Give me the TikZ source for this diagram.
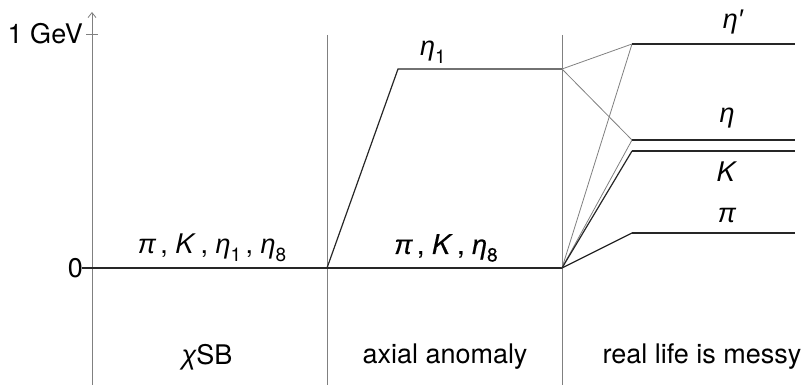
\documentclass[tikz,border=0pt]{standalone}
\usepackage{fontspec}
\setmainfont{TeX Gyre Heros}
\newfontfamily\grk{Liberation Sans}
\newfontfamily\grkb[FakeBold=0.6]{Liberation Sans}
\newfontfamily\hvb[FakeBold=0.6]{TeX Gyre Heros}
\usetikzlibrary{arrows.meta}
\newcommand\lowidx[1]{\raisebox{-0.28em}{\fontsize{19}{19}\selectfont\upshape #1}}
\newcommand\gr[1]{{\grk\itshape #1}}
\newcommand\grb[1]{{\grkb\itshape #1}}
\begin{document}
\begin{tikzpicture}[x=1pt,y=-1pt,
  lab/.style={font=\fontsize{27}{30}\selectfont, inner sep=0pt},
  axline/.style={draw=gray, line width=0.8pt},
  lvl/.style={draw=black!85, line width=1.2pt},
  mix/.style={draw=gray, line width=0.8pt}]
\useasboundingbox (0,0) rectangle (806,385);
% coordinates
\coordinate (ax0) at (92,385);
\coordinate (axT) at (92,12);
\coordinate (t1a) at (86,34);
\coordinate (t1b) at (98,34);
\coordinate (b0) at (82,268);
\coordinate (s1) at (327,268);
\coordinate (s2) at (562,268);
\coordinate (v1t) at (327,35);
\coordinate (v1b) at (327,385);
\coordinate (v2t) at (562,35);
\coordinate (v2b) at (562,385);
\coordinate (e1a) at (398,69);
\coordinate (e1b) at (562,69);
\coordinate (ep) at (632,44);
\coordinate (epE) at (795,44);
\coordinate (eta) at (632,140);
\coordinate (etaE) at (795,140);
\coordinate (K) at (632,151);
\coordinate (KE) at (795,151);
\coordinate (pi) at (632,233);
\coordinate (piE) at (795,233);
% axis and separators
\draw[axline, -{Straight Barb[length=5pt,width=8pt]}] (ax0) -- (axT);
\draw[axline] (t1a) -- (t1b);
\draw[axline] (v1t) -- (v1b);
\draw[axline] (v2t) -- (v2b);
% levels
\draw[lvl] (b0) -- (s2);
\draw[lvl] (s1) -- (e1a) -- (e1b);
\draw[mix] (e1b) -- (ep);
\draw[mix] (e1b) -- (eta);
\draw[mix] (s2) -- (ep);
\draw[mix] (s2) -- (eta);
\draw[lvl] (s2) -- (K);
\draw[lvl] (s2) -- (pi);
\draw[lvl] (ep) -- (epE);
\draw[lvl] (eta) -- (etaE);
\draw[lvl] (K) -- (KE);
\draw[lvl] (pi) -- (piE);
% labels
\node[lab, anchor=east] (lGeV) at (83,34) {1 GeV};
\node[lab, anchor=east] (lZero) at (83,268) {0};
\node[lab] (lA) at (212,248) {\gr{π}\,, \textit{K}\,, \gr{η}\lowidx{1}\,, \gr{η}\lowidx{8}};
\node[lab] (lB) at (446,248) {\hvb\grb{π}\,, \textit{K}\,, \grb{η}\lowidx{8}};
\node[lab] (lEta1) at (433,52) {\gr{η}\lowidx{1}};
\node[lab] (lEtap) at (733,22) {\gr{η′}};
\node[lab] (lEta) at (727,118) {\gr{η}};
\node[lab] (lK) at (727,172) {\textit{K}};
\node[lab] (lPi) at (727,215) {\gr{π}};
\node[lab] (lChi) at (207,357) {\gr{χ}SB};
\node[lab] (lAx) at (445,357) {axial anomaly};
\node[lab] (lReal) at (702,357) {real life is messy};
\end{tikzpicture}
\end{document}
